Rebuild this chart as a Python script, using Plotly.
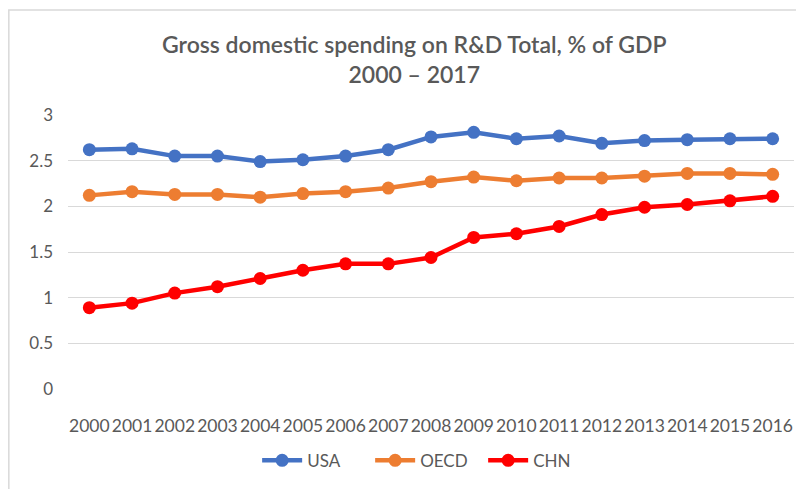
import plotly.graph_objects as go

years = [str(y) for y in range(2000, 2017)]
usa = [2.62, 2.63, 2.55, 2.55, 2.49, 2.51, 2.55, 2.62, 2.76, 2.81, 2.74, 2.77, 2.69, 2.72, 2.73, 2.74, 2.74]
oecd = [2.12, 2.16, 2.13, 2.13, 2.10, 2.14, 2.16, 2.20, 2.27, 2.32, 2.28, 2.31, 2.31, 2.33, 2.36, 2.36, 2.35]
chn = [0.89, 0.94, 1.05, 1.12, 1.21, 1.30, 1.37, 1.37, 1.44, 1.66, 1.70, 1.78, 1.91, 1.99, 2.02, 2.06, 2.11]

series = [("USA", usa, "#4472C4"), ("OECD", oecd, "#ED7D31"), ("CHN", chn, "#FF0000")]

FONT = "Lato"
GREY = "#595959"

fig = go.Figure()
for name, vals, color in series:
    fig.add_trace(go.Scatter(
        x=years, y=vals, name=name, mode="lines+markers",
        line=dict(color=color, width=4.5),
        marker=dict(color=color, size=13),
    ))

fig.update_layout(
    width=796, height=481,
    margin=dict(l=60, r=10, t=107, b=97),
    paper_bgcolor="white", plot_bgcolor="white",
    font=dict(family=FONT, color=GREY),
    showlegend=True,
    legend=dict(orientation="h", x=0.494, xanchor="center", y=-0.262, yanchor="middle",
                font=dict(size=17, color=GREY), itemwidth=40, tracegroupgap=0,
                entrywidth=58),
    annotations=[dict(
        text="Gross domestic spending on R&amp;D Total, % of GDP<br>2000 – 2017",
        xref="paper", yref="paper", x=0.4776, y=1.205, xanchor="center", yanchor="middle",
        showarrow=False, font=dict(family=FONT, size=23, color=GREY, weight=600), align="center",
    )],
    shapes=[dict(type="rect", xref="paper", yref="paper",
                 x0=-0.0815, y0=-0.4, x1=1.05, y1=1.383,
                 line=dict(color="#D9D9D9", width=1.5), layer="below")],
)

fig.update_xaxes(
    type="category", range=[-0.5, 16.5], showgrid=False, zeroline=False,
    showline=False, ticks="", tickangle=0, tickfont=dict(size=17.5, color=GREY),
    ticklabelstandoff=24,
)
fig.update_yaxes(
    range=[0, 3], dtick=0.5, showgrid=True, gridcolor="#D9D9D9", gridwidth=1.3,
    zeroline=False, showline=False, ticks="", tickfont=dict(size=17, color=GREY),
    ticklabelstandoff=14,
)

fig.write_html("out.html")
